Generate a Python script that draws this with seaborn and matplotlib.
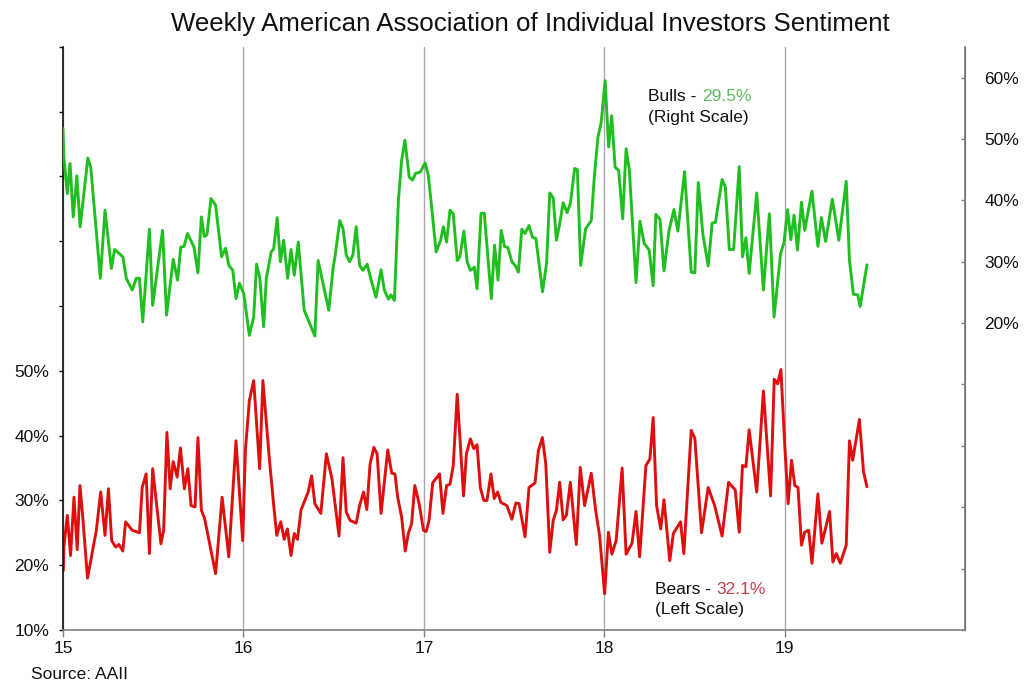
import matplotlib
matplotlib.use('Agg')
import matplotlib.pyplot as plt
import seaborn as sns
import pandas as pd

# weekly AAII sentiment (x in two-digit years)
bulls_year = [15.000, 15.005, 15.024, 15.039, 15.057, 15.077, 15.095, 15.138, 15.154, 15.207,
              15.233, 15.268, 15.286, 15.332, 15.351, 15.384, 15.406, 15.424, 15.442, 15.479,
              15.497, 15.552, 15.574, 15.611, 15.635, 15.653, 15.671, 15.690, 15.726, 15.748,
              15.767, 15.783, 15.798, 15.820, 15.846, 15.879, 15.901, 15.919, 15.941, 15.959,
              15.978, 16.002, 16.033, 16.057, 16.073, 16.091, 16.112, 16.127, 16.154, 16.168,
              16.187, 16.205, 16.223, 16.245, 16.264, 16.282, 16.304, 16.337, 16.396, 16.414,
              16.473, 16.497, 16.510, 16.534, 16.552, 16.570, 16.589, 16.607, 16.625, 16.644,
              16.662, 16.686, 16.708, 16.735, 16.763, 16.781, 16.804, 16.818, 16.837, 16.859,
              16.877, 16.895, 16.919, 16.937, 16.955, 16.980, 17.007, 17.025, 17.047, 17.068,
              17.093, 17.108, 17.126, 17.145, 17.163, 17.185, 17.200, 17.222, 17.240, 17.258,
              17.280, 17.295, 17.317, 17.335, 17.374, 17.392, 17.411, 17.429, 17.447, 17.466,
              17.488, 17.506, 17.524, 17.543, 17.561, 17.583, 17.602, 17.621, 17.658, 17.680,
              17.698, 17.717, 17.735, 17.753, 17.772, 17.794, 17.812, 17.836, 17.851, 17.869,
              17.897, 17.928, 17.946, 17.965, 17.983, 18.005, 18.024, 18.041, 18.060, 18.080,
              18.102, 18.121, 18.139, 18.176, 18.198, 18.221, 18.249, 18.271, 18.286, 18.309,
              18.331, 18.359, 18.386, 18.408, 18.445, 18.482, 18.502, 18.521, 18.546, 18.576,
              18.598, 18.616, 18.653, 18.671, 18.693, 18.717, 18.748, 18.766, 18.785, 18.803,
              18.845, 18.882, 18.915, 18.941, 18.977, 18.996, 19.016, 19.034, 19.052, 19.071,
              19.093, 19.111, 19.151, 19.184, 19.203, 19.227, 19.264, 19.300, 19.341, 19.359,
              19.381, 19.405, 19.418, 19.456]
bulls_pct = [51.7, 47.0, 41.1, 46.0, 37.3, 44.0, 35.7, 46.9, 45.4, 27.3,
             38.4, 28.9, 32.0, 30.8, 27.3, 25.4, 27.3, 27.3, 20.2, 35.3,
             22.9, 35.1, 21.3, 30.4, 27.0, 32.4, 32.5, 34.6, 32.4, 28.2,
             37.3, 34.1, 34.4, 40.3, 39.2, 30.8, 32.2, 29.4, 28.6, 24.0,
             26.5, 24.8, 18.0, 21.0, 29.6, 27.3, 19.4, 27.3, 31.6, 32.1,
             37.2, 30.0, 33.5, 27.3, 32.0, 27.8, 33.2, 22.1, 17.9, 30.2,
             22.1, 28.9, 31.3, 36.7, 35.4, 31.1, 30.0, 31.1, 35.7, 29.4,
             28.6, 29.6, 27.0, 24.2, 28.7, 25.4, 23.9, 24.6, 23.7, 40.0,
             46.5, 49.8, 43.8, 43.3, 44.4, 44.6, 46.1, 44.1, 37.8, 31.6,
             33.5, 35.7, 33.2, 38.4, 37.8, 30.2, 30.8, 35.0, 30.0, 28.6,
             29.1, 25.6, 37.9, 37.9, 24.0, 32.7, 27.0, 35.1, 32.5, 32.3,
             30.0, 29.4, 28.3, 35.3, 34.6, 35.9, 34.0, 33.8, 25.1, 29.7,
             41.2, 40.4, 33.5, 36.2, 39.6, 38.0, 39.5, 45.2, 45.0, 29.4,
             35.4, 36.7, 44.3, 50.3, 52.7, 59.5, 48.7, 53.8, 45.4, 44.9,
             37.0, 48.4, 44.9, 26.6, 36.6, 33.0, 31.9, 26.1, 37.7, 36.9,
             28.5, 35.1, 38.5, 35.0, 44.7, 28.3, 28.2, 42.9, 34.6, 29.3,
             36.3, 36.4, 43.4, 42.2, 32.0, 32.0, 45.5, 30.8, 33.9, 28.1,
             41.2, 25.4, 37.8, 21.0, 31.3, 33.1, 38.5, 33.6, 37.6, 31.9,
             39.7, 35.1, 41.5, 32.5, 37.2, 33.3, 40.2, 33.5, 43.1, 30.2,
             24.7, 24.6, 22.7, 29.5]

bears_year = [15.002, 15.005, 15.024, 15.042, 15.061, 15.079, 15.094, 15.108, 15.136, 15.185,
              15.209, 15.233, 15.252, 15.270, 15.292, 15.310, 15.332, 15.347, 15.384, 15.424,
              15.439, 15.461, 15.479, 15.497, 15.543, 15.558, 15.576, 15.594, 15.611, 15.633,
              15.651, 15.673, 15.692, 15.710, 15.732, 15.748, 15.767, 15.785, 15.846, 15.882,
              15.919, 15.959, 15.996, 16.011, 16.033, 16.057, 16.090, 16.108, 16.143, 16.167,
              16.185, 16.207, 16.226, 16.244, 16.264, 16.282, 16.300, 16.319, 16.359, 16.378,
              16.396, 16.429, 16.460, 16.491, 16.530, 16.552, 16.570, 16.592, 16.625, 16.644,
              16.666, 16.684, 16.702, 16.723, 16.741, 16.763, 16.800, 16.822, 16.840, 16.855,
              16.877, 16.897, 16.914, 16.932, 16.950, 16.974, 16.998, 17.013, 17.029, 17.049,
              17.087, 17.106, 17.126, 17.145, 17.163, 17.185, 17.220, 17.236, 17.258, 17.277,
              17.295, 17.313, 17.332, 17.350, 17.372, 17.390, 17.409, 17.427, 17.460, 17.488,
              17.510, 17.528, 17.561, 17.583, 17.616, 17.635, 17.657, 17.676, 17.698, 17.717,
              17.735, 17.753, 17.772, 17.790, 17.812, 17.845, 17.867, 17.891, 17.928, 17.952,
              17.974, 18.002, 18.023, 18.042, 18.066, 18.099, 18.121, 18.154, 18.176, 18.196,
              18.231, 18.253, 18.271, 18.290, 18.313, 18.331, 18.363, 18.383, 18.423, 18.441,
              18.482, 18.502, 18.539, 18.576, 18.612, 18.653, 18.689, 18.726, 18.748, 18.766,
              18.785, 18.803, 18.845, 18.882, 18.922, 18.942, 18.961, 18.979, 19.001, 19.019,
              19.038, 19.056, 19.074, 19.093, 19.111, 19.133, 19.151, 19.184, 19.206, 19.249,
              19.267, 19.286, 19.308, 19.341, 19.359, 19.377, 19.414, 19.437, 19.456]
bears_pct = [19.2, 22.8, 27.7, 21.5, 30.5, 22.4, 32.3, 28.0, 18.0, 25.4,
             31.3, 24.6, 31.8, 23.8, 22.8, 23.2, 22.2, 26.7, 25.4, 25.0,
             32.0, 34.1, 21.8, 34.9, 23.3, 25.4, 40.5, 31.8, 36.0, 33.6,
             38.1, 31.8, 34.9, 29.2, 29.0, 39.7, 28.5, 27.2, 18.7, 30.5,
             21.3, 39.2, 23.8, 37.7, 45.4, 48.5, 34.9, 48.5, 36.7, 29.5,
             24.6, 26.7, 24.0, 25.6, 21.5, 24.9, 24.0, 28.5, 31.3, 33.8,
             29.5, 28.0, 37.2, 33.3, 24.5, 36.6, 28.2, 26.9, 26.5, 29.2,
             31.3, 28.6, 35.6, 38.2, 37.2, 28.0, 37.8, 34.2, 34.1, 30.5,
             27.4, 22.2, 24.9, 26.4, 32.3, 29.5, 25.4, 25.2, 26.9, 32.7,
             34.1, 28.0, 32.3, 32.5, 35.4, 46.4, 30.7, 37.2, 39.5, 38.0,
             38.6, 32.0, 30.0, 30.0, 34.1, 30.3, 31.3, 29.7, 29.2, 27.1,
             29.6, 29.5, 24.4, 32.0, 32.7, 37.7, 39.7, 35.6, 22.0, 26.9,
             28.5, 32.8, 27.0, 27.7, 32.8, 23.2, 35.1, 29.2, 34.2, 28.5,
             24.6, 15.6, 25.1, 21.7, 23.8, 35.0, 21.7, 23.4, 28.3, 21.3,
             35.4, 36.4, 42.8, 29.2, 25.6, 30.1, 20.7, 24.9, 26.7, 21.8,
             40.8, 39.6, 25.0, 32.0, 29.2, 24.5, 32.8, 31.6, 25.1, 35.4,
             35.2, 40.9, 31.3, 46.9, 30.7, 48.7, 48.0, 50.2, 38.2, 29.5,
             36.2, 32.3, 32.0, 23.1, 25.1, 25.4, 20.3, 31.0, 23.4, 28.3,
             20.5, 21.8, 20.3, 23.1, 39.2, 36.2, 42.5, 34.4, 32.1]

year_ticks = [15, 16, 17, 18, 19]
left_ticks = list(range(10, 101, 10))
right_ticks = list(range(-30, 61, 10))

GREEN = '#1fbf1f'
RED = '#dd0f0f'

bulls = pd.DataFrame({'year': bulls_year, 'pct': bulls_pct})
bears = pd.DataFrame({'year': bears_year, 'pct': bears_pct})

sns.set_style('ticks')
plt.rcParams['font.family'] = ['Liberation Sans', 'DejaVu Sans']

fig = plt.figure(figsize=(10.24, 6.95), dpi=100)
ax = fig.add_axes([0.0615, 0.0935, 0.881, 0.839])
ax2 = ax.twinx()

sns.lineplot(data=bears, x='year', y='pct', ax=ax, color=RED, lw=2.1,
             sort=False, estimator=None)
sns.lineplot(data=bulls, x='year', y='pct', ax=ax2, color=GREEN, lw=2.1,
             sort=False, estimator=None)

ax.set_xlim(15, 20)
ax.set_xticks(year_ticks)
ax.set_xticklabels([str(y) for y in year_ticks])
ax.set_ylim(10, 100)
ax.set_yticks(left_ticks)
ax.set_yticklabels(['%d%%' % v if v <= 50 else '' for v in left_ticks])
ax2.set_ylim(-30, 65)
ax2.set_yticks(right_ticks)
ax2.set_yticklabels(['%d%%' % v if v >= 20 else '' for v in right_ticks])
ax.set_xlabel('')
ax.set_ylabel('')
ax2.set_ylabel('')

ax.grid(axis='x', color='#a8a8a8', lw=1.0)
ax.grid(axis='y', visible=False)
ax2.grid(False)

for a in (ax, ax2):
    a.spines['top'].set_visible(False)
ax.spines['left'].set_color('#111111')
ax.spines['bottom'].set_color('#808080')
ax2.spines['right'].set_color('#808080')
ax2.spines['left'].set_visible(False)
ax2.spines['bottom'].set_visible(False)
for s in ('left', 'bottom'):
    ax.spines[s].set_linewidth(1.2)
ax2.spines['right'].set_linewidth(1.2)

ax.tick_params(axis='x', direction='out', length=5, width=1, color='#808080',
               labelsize=12.5, pad=3, labelcolor='#111111')
ax.tick_params(axis='y', direction='out', length=3, width=1, color='#111111',
               labelsize=12.5, pad=7, labelcolor='#111111')
ax2.tick_params(axis='y', direction='in', length=3, width=1, color='#808080',
                labelsize=12.5, pad=14, labelcolor='#111111')

fig.text(0.518, 0.966, 'Weekly American Association of Individual Investors Sentiment',
         ha='center', va='center', fontsize=18.6, color='#111111')

# annotations (axes fraction positions)
ax2.annotate('Bulls -', xy=(0.648, 0.915), xycoords='axes fraction',
             fontsize=12.5, color='#111111', ha='left', va='center')
ax2.annotate('29.5%', xy=(0.708, 0.915), xycoords='axes fraction',
             fontsize=12.5, color='#5dbb5d', ha='left', va='center')
ax2.annotate('(Right Scale)', xy=(0.648, 0.879), xycoords='axes fraction',
             fontsize=12.5, color='#111111', ha='left', va='center')
ax2.annotate('Bears -', xy=(0.656, 0.070), xycoords='axes fraction',
             fontsize=12.5, color='#111111', ha='left', va='center')
ax2.annotate('32.1%', xy=(0.724, 0.070), xycoords='axes fraction',
             fontsize=12.5, color='#c9404f', ha='left', va='center')
ax2.annotate('(Left Scale)', xy=(0.656, 0.036), xycoords='axes fraction',
             fontsize=12.5, color='#111111', ha='left', va='center')

fig.text(0.030, 0.029, 'Source: AAII', ha='left', va='center',
         fontsize=12.5, color='#111111')

fig.savefig('out.png', dpi=100)
